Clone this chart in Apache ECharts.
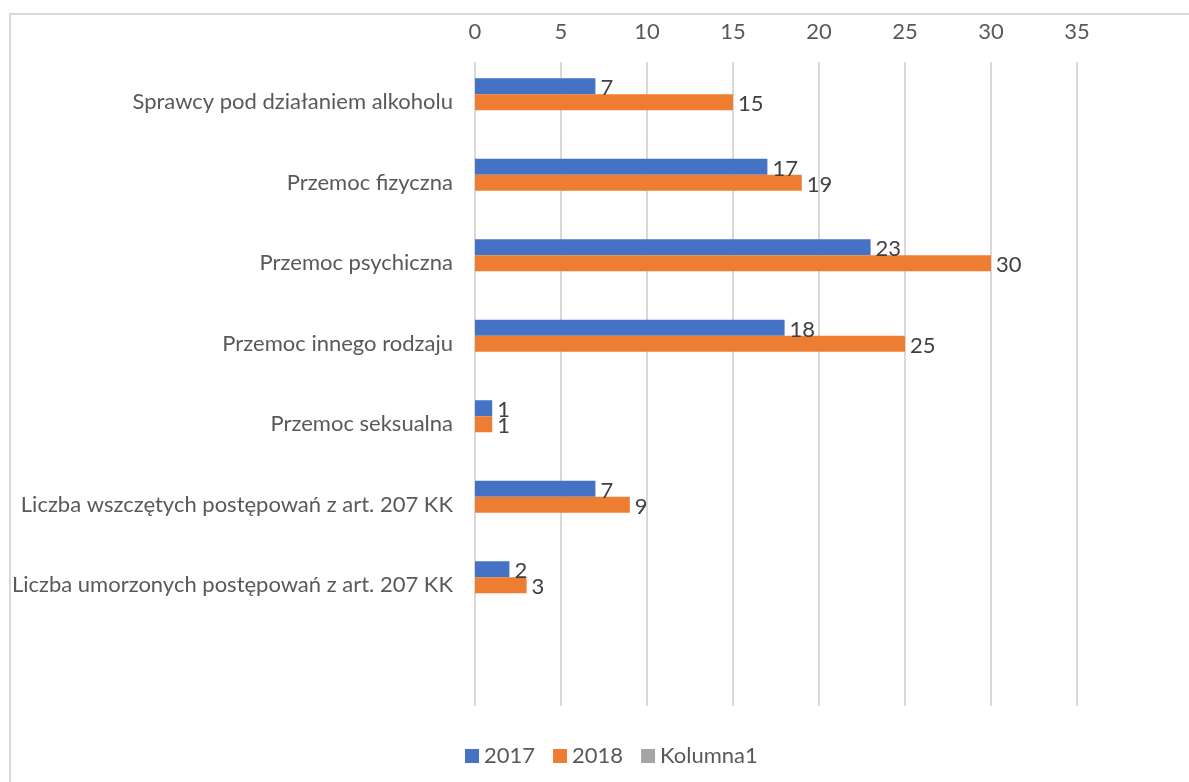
<!DOCTYPE html>
<html>
<head>
<meta charset="utf-8">
<script src="https://cdn.jsdelivr.net/npm/echarts@6/dist/echarts.min.js"></script>
<style>
  html, body { margin: 0; padding: 0; background: #fff; overflow: hidden; }
  #frame {
    position: absolute; left: 9px; top: 13px; width: 1300px; height: 900px;
    border-left: 2px solid #d9d9d9; border-top: 2px solid #d9d9d9;
  }
  #chart { position: absolute; left: 0; top: 0; width: 1189px; height: 782px; }
</style>
</head>
<body>
<div id="frame"></div>
<div id="chart"></div>
<script>
const categories = [
  'Sprawcy pod działaniem alkoholu',
  'Przemoc fizyczna',
  'Przemoc psychiczna',
  'Przemoc innego rodzaju',
  'Przemoc seksualna',
  'Liczba wszczętych postępowań z art. 207 KK',
  'Liczba umorzonych postępowań z art. 207 KK',
  ''
]
const values2017 = [7, 17, 23, 18, 1, 7, 2, null]
const values2018 = [15, 19, 30, 25, 1, 9, 3, null]
const valuesKolumna1 = [null, null, null, null, null, null, null, null]
const seriesNames = ['2017', '2018', 'Kolumna1']

const fontFamily = 'Lato, "Open Sans", sans-serif'
const textColor = '#595959'
const fontSize = 22

const barLabel = {
  show: true,
  position: 'right',
  distance: 5,
  offset: [0, 2],
  color: '#404040',
  fontSize,
  fontFamily
}

const chart = echarts.init(document.getElementById('chart'))
chart.setOption({
  animation: false,
  color: ['#4472c4', '#ed7d31', '#a5a5a5'],
  textStyle: { fontFamily },
  grid: { left: 475, right: 112, top: 62, bottom: 76, containLabel: false },
  legend: {
    left: 460,
    top: 740,
    itemWidth: 14,
    itemHeight: 14,
    itemGap: 18,
    icon: 'rect',
    textStyle: { color: textColor, fontSize, fontFamily },
    data: seriesNames
  },
  xAxis: {
    type: 'value',
    position: 'top',
    min: 0,
    max: 35,
    interval: 5,
    axisLine: { show: false },
    axisTick: { show: false },
    axisLabel: { color: textColor, fontSize, fontFamily, margin: 19 },
    splitLine: { lineStyle: { color: '#d9d9d9', width: 2 } }
  },
  yAxis: {
    type: 'category',
    inverse: true,
    data: categories,
    axisLine: { show: false },
    axisTick: { show: false },
    axisLabel: { color: textColor, fontSize, fontFamily, margin: 22 }
  },
  series: [
    { name: seriesNames[0], type: 'bar', data: values2017, barWidth: 16, barGap: '0%', label: barLabel },
    { name: seriesNames[1], type: 'bar', data: values2018, barWidth: 16, barGap: '0%', label: barLabel },
    { name: seriesNames[2], type: 'bar', data: valuesKolumna1, barWidth: 16, barGap: '0%', label: barLabel }
  ]
})
</script>
</body>
</html>
